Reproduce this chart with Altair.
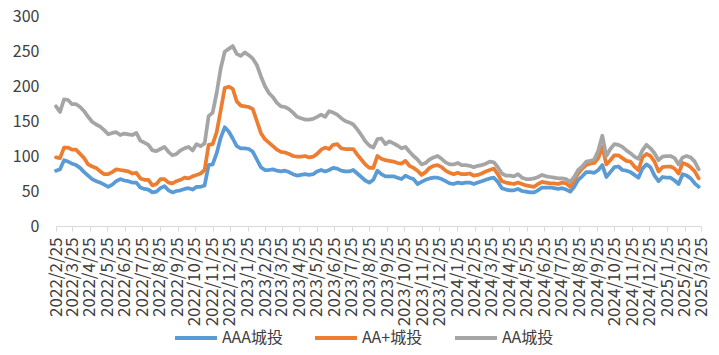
import altair as alt
import pandas as pd

# ---- data (weekly) ----
start_date = "2022-02-25"
n_weeks = 161

aaa = [79, 81, 94, 92, 89, 87, 83, 77, 72, 67, 64, 62, 59, 56, 59, 64, 67, 65, 64, 62, 62, 55, 53, 52, 48, 49,
       54, 57, 51, 48, 50, 51, 53, 54, 52, 56, 56, 58, 87, 88, 104, 126, 141, 135, 125, 114, 111, 111, 110, 106, 95,
       84, 80, 80, 81, 79, 78, 79, 77, 74, 72, 73, 74, 73, 74, 78, 80, 78, 80, 83, 82, 79, 78, 78, 80, 75,
       70, 65, 62, 66, 79, 74, 71, 71, 71, 69, 67, 72, 69, 67, 60, 63, 66, 68, 69, 69, 67, 64, 61, 60, 62,
       61, 62, 62, 60, 62, 64, 66, 68, 69, 63, 54, 52, 51, 51, 53, 50, 49, 48, 48, 51, 55, 55, 55, 54, 53,
       54, 52, 49, 56, 66, 71, 77, 77, 76, 80, 87, 70, 77, 84, 85, 80, 79, 77, 73, 69, 82, 88, 84, 72, 64,
       70, 69, 69, 65, 60, 74, 72, 68, 61, 56]

aa_plus = [98, 97, 112, 112, 109, 109, 103, 97, 88, 85, 83, 78, 74, 74, 77, 81, 80, 79, 78, 75, 76, 68, 66, 66, 58, 60,
           67, 67, 62, 61, 64, 66, 69, 68, 71, 73, 75, 80, 116, 117, 134, 165, 197, 199, 196, 178, 172, 171, 170, 167, 150,
           133, 124, 119, 114, 109, 106, 105, 103, 100, 99, 99, 100, 98, 99, 103, 109, 112, 110, 116, 117, 111, 110, 110, 110, 102,
           95, 88, 83, 83, 100, 96, 94, 93, 92, 90, 89, 93, 86, 83, 79, 73, 77, 83, 86, 87, 84, 79, 76, 74, 76,
           74, 74, 75, 72, 73, 75, 78, 80, 82, 74, 64, 62, 61, 60, 62, 60, 58, 57, 56, 60, 63, 62, 61, 61, 60,
           62, 61, 56, 66, 75, 82, 87, 89, 90, 97, 113, 88, 94, 101, 101, 97, 93, 92, 85, 80, 98, 103, 100, 92, 78,
           84, 85, 85, 82, 75, 90, 88, 84, 78, 68]

aa = [171, 163, 181, 180, 174, 174, 170, 164, 156, 149, 145, 142, 137, 131, 133, 134, 130, 132, 131, 130, 133, 122, 119, 116, 108, 107,
      110, 113, 106, 101, 103, 108, 111, 113, 108, 117, 114, 118, 157, 162, 190, 225, 249, 253, 257, 246, 243, 248, 244, 239, 230,
      214, 200, 190, 184, 176, 171, 170, 167, 162, 156, 154, 152, 152, 153, 156, 159, 156, 164, 162, 159, 154, 150, 148, 145, 138,
      130, 121, 115, 112, 124, 125, 117, 121, 118, 115, 111, 113, 106, 100, 95, 88, 90, 95, 98, 100, 96, 91, 88, 88, 90,
      87, 87, 86, 84, 86, 87, 89, 92, 91, 84, 75, 72, 72, 71, 74, 69, 67, 67, 68, 70, 73, 71, 70, 69, 68,
      68, 67, 63, 70, 80, 85, 92, 93, 95, 108, 129, 100, 110, 117, 116, 113, 108, 104, 99, 96, 108, 116, 111, 104, 94,
      99, 100, 100, 97, 88, 98, 100, 98, 92, 81]

series_names = ["AAA城投", "AA+城投", "AA城投"]
series_colors = ["#5B9BD5", "#ED7D31", "#A5A5A5"]

tick_years = [2022] * 11 + [2023] * 12 + [2024] * 12 + [2025] * 3
tick_months = list(range(2, 13)) + list(range(1, 13)) + list(range(1, 13)) + [1, 2, 3]
y_ticks = [0, 50, 100, 150, 200, 250, 300]

# ---- table ----
dates = pd.date_range(start_date, periods=n_weeks, freq="7D").strftime("%Y/%m/%d")
rows = []
for name, vals in zip(series_names, [aaa, aa_plus, aa]):
    for d, v in zip(dates, vals):
        rows.append({"date": d, "series": name, "value": v})
df = pd.DataFrame(rows)

tick_values = [alt.DateTime(year=y, month=m, date=25) for y, m in zip(tick_years, tick_months)]

FONT = "Noto Sans CJK SC"
TEXT = "#404040"

chart = alt.Chart(df).mark_line(strokeWidth=3.75, strokeJoin="round", strokeCap="round").encode(
    x=alt.X(
        "date:T",
        scale=alt.Scale(domain=[alt.DateTime(year=2022, month=2, date=25),
                                alt.DateTime(year=2025, month=3, date=25)]),
        axis=alt.Axis(title=None, values=tick_values, format="%Y/%-m/%-d", labelAngle=270,
                      labelFont=FONT, labelFontSize=17, labelColor=TEXT,
                      domainColor="#D9D9D9", domainWidth=1, tickColor="#D9D9D9", tickSize=5,
                      labelPadding=6, grid=False, labelOverlap=False, labelBound=False,
                      labelFlush=False),
    ),
    y=alt.Y(
        "value:Q",
        scale=alt.Scale(domain=[0, 300], nice=False),
        axis=alt.Axis(title=None, values=y_ticks, grid=False, domain=False, ticks=False,
                      labelPadding=17, labelFont=FONT, labelFontSize=16, labelColor=TEXT),
    ),
    color=alt.Color(
        "series:N",
        scale=alt.Scale(domain=series_names, range=series_colors),
        legend=alt.Legend(title=None, orient="none", legendX=117, legendY=299,
                          direction="horizontal", symbolType="stroke", symbolSize=1764,
                          symbolStrokeWidth=4, labelFont=FONT, labelFontSize=16,
                          labelColor=TEXT, columnPadding=24, labelOffset=3),
    ),
).properties(
    width=645,
    height=210,
    autosize=alt.AutoSizeParams(type="none"),
    padding={"left": 48, "top": 8, "right": 10, "bottom": 121},
).configure_view(stroke=None)

chart.save("out.html", embed_options={"renderer": "svg", "actions": False})
